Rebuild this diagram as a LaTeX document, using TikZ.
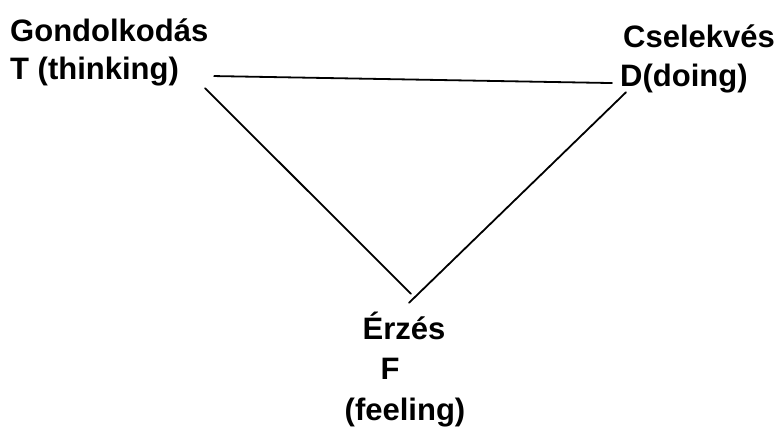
\documentclass[tikz,border=0pt]{standalone}
\usepackage{fontspec}
\setmainfont{Liberation Sans}
\usepackage{tikz}

\begin{document}
\begin{tikzpicture}[x=1pt,y=-1pt,line cap=round,line join=round,
    lbl/.style={inner sep=0pt,font=\bfseries\fontsize{31}{31}\selectfont},
    edge/.style={line width=1.8pt}]
  \useasboundingbox (0,0) rectangle (777,427);
  % thinking, top left
  \node[lbl,anchor=base west] (gond) at (10,42) {Gondolkodás};
  \node[lbl,anchor=base west] (think) at (10,80) {T (thinking)};
  % doing, top right
  \node[lbl,anchor=base west] (csel) at (623,48) {Cselekvés};
  \node[lbl,anchor=base west] (doing) at (620,87) {D(doing)};
  % feeling, bottom
  \node[lbl,anchor=base] (erzes) at (404,340) {Érzés};
  \node[lbl,anchor=base] (fF) at (390,380) {F};
  \node[lbl,anchor=base] (feel) at (405,421) {(feeling)};
  % the triangle
  \draw[edge] ([xshift=35pt,yshift=-4pt]think.east) -- ([xshift=-8pt,yshift=-4pt]doing.west);
  \draw[edge] ([xshift=26pt,yshift=-1.5pt]think.south east) -- ([xshift=7pt,yshift=18.5pt]erzes.north);
  \draw[edge] ([xshift=5pt,yshift=9.5pt]erzes.north) -- ([xshift=6pt,yshift=1.5pt]doing.south west);
\end{tikzpicture}
\end{document}
